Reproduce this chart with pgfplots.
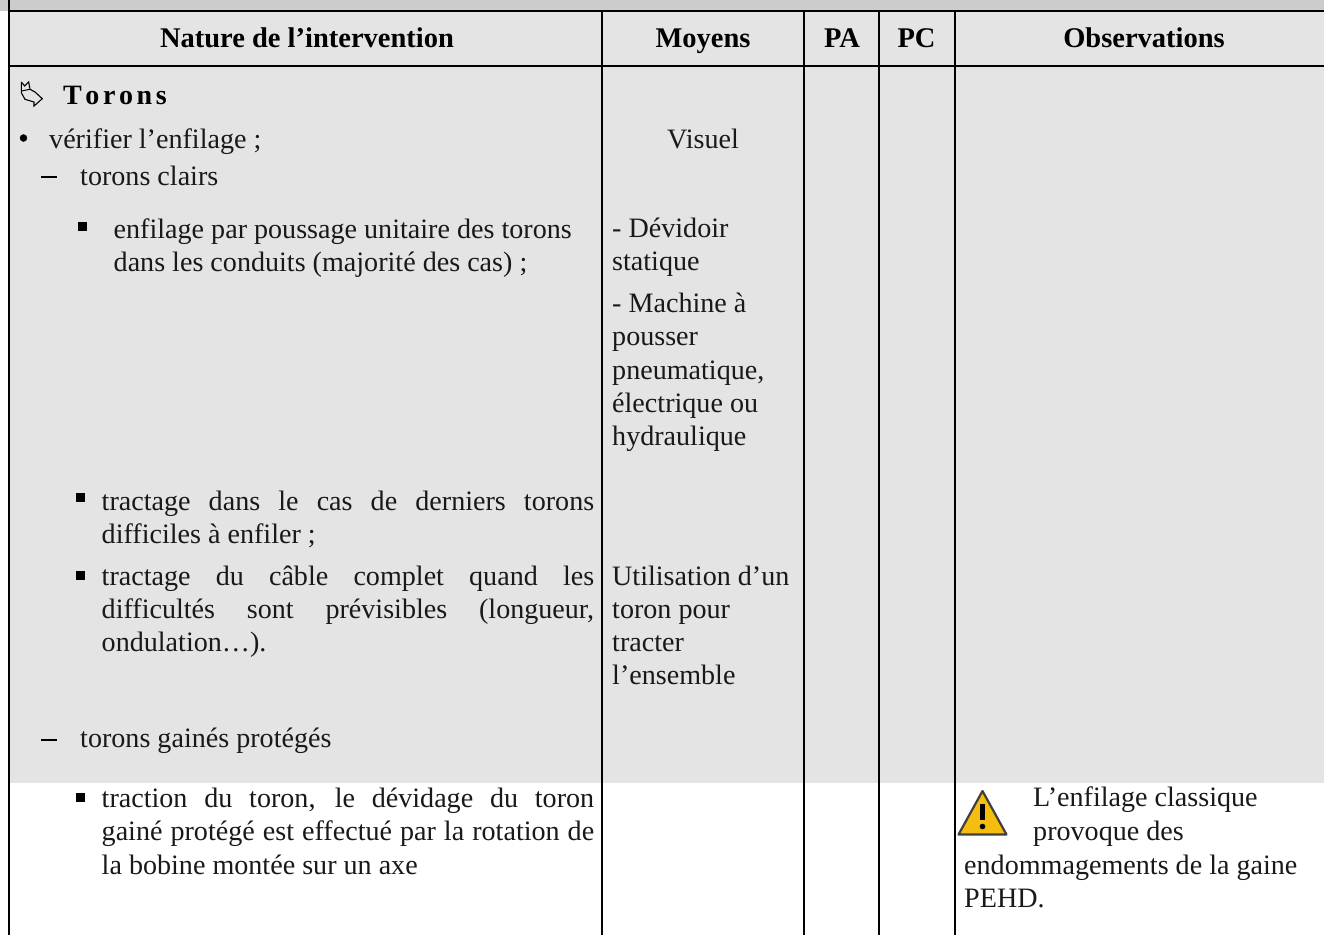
\documentclass[border=0pt]{standalone}
\usepackage{pgfplots}
\pgfplotsset{compat=1.18}
\usepackage{fontspec}
\setmainfont{Liberation Serif}
\definecolor{bandgray}{HTML}{CCCCCC}
\definecolor{cellgray}{HTML}{E4E4E4}
\definecolor{warn}{HTML}{F5BE0F}
\newcommand{\T}[3]{\node[anchor=base west,inner sep=0pt,text=black!90] at (axis cs:#1,#2) {\fontsize{28.1}{30}\selectfont #3};}
\newcommand{\J}[4]{\node[anchor=base west,inner sep=0pt,text=black!90] at (axis cs:#1,#2) {\fontsize{28.1}{30}\selectfont\makebox[#3pt][s]{#4}};}
\newcommand{\C}[3]{\node[anchor=base,inner sep=0pt,text=black!90] at (axis cs:#1,#2) {\fontsize{28.1}{30}\selectfont #3};}
\newcommand{\Hd}[3]{\node[anchor=base,inner sep=0pt] at (axis cs:#1,#2) {\fontsize{28.5}{30}\selectfont\bfseries #3};}
\begin{document}
\begin{tikzpicture}
\begin{axis}[
  at={(0pt,0pt)},anchor=south west,
  width=1324pt,height=935pt,scale only axis,
  xmin=0,xmax=1324,ymin=0,ymax=935,y dir=reverse,
  axis lines=none,clip=true,
]
% fills
\addplot[draw=none,fill=bandgray] coordinates {(0,0)(1324,0)(1324,11)(0,11)} -- cycle;
\addplot[draw=none,fill=cellgray] coordinates {(8,11)(1324,11)(1324,782.5)(8,782.5)} -- cycle;
% rules
\addplot[black,line width=2.5pt] coordinates {(9,0)(9,935)};
\addplot[black,line width=2pt] coordinates {(8,11)(1324,11)};
\addplot[black,line width=2pt] coordinates {(8,66)(1324,66)};
\addplot[black,line width=2pt] coordinates {(602,11)(602,935)};
\addplot[black,line width=2pt] coordinates {(804,11)(804,935)};
\addplot[black,line width=2pt] coordinates {(879,11)(879,935)};
\addplot[black,line width=2pt] coordinates {(955,11)(955,935)};
% header
\Hd{307}{47}{Nature de l’intervention}
\Hd{703}{47}{Moyens}
\Hd{842}{47}{PA}
\Hd{916.5}{47}{PC}
\Hd{1144}{47}{Observations}
% arrow symbol
\addplot[black,line width=1.1pt] coordinates {(21.3,82)(24.7,86)(28.7,82)(30,89.3)(35,92)(42.3,98.7)(34,106)(34,102)(25,99.3)(21.3,92.7)(21.3,82)};
\addplot[black,line width=1pt] coordinates {(21.3,91)(30,89.3)};
% col 1
\node[anchor=base west,inner sep=0pt] at (axis cs:63,104) {\fontsize{28}{30}\selectfont\bfseries T\hspace{3.6pt}o\hspace{3.6pt}r\hspace{3.6pt}o\hspace{3.6pt}n\hspace{3.6pt}s};
\addplot[only marks,mark=*,mark size=3.5pt,black] coordinates {(23.5,138)};
\T{49}{148}{vérifier l’enfilage ;}
\addplot[black,line width=1.2pt] coordinates {(41,177)(57,177)};
\T{80}{185}{torons clairs}
\addplot[only marks,mark=square*,mark size=4pt,black] coordinates {(82,226.5)};
\T{113.5}{238}{enfilage par poussage unitaire des torons}
\T{113.5}{271}{dans les conduits (majorité des cas) ;}
\addplot[only marks,mark=square*,mark size=4pt,black] coordinates {(80,497.5)};
\J{101.5}{510}{492.5}{tractage dans le cas de derniers torons}
\T{101.5}{543}{difficiles à enfiler ;}
\addplot[only marks,mark=square*,mark size=4pt,black] coordinates {(80,575)};
\J{101.5}{585}{492.5}{tractage du câble complet quand les}
\J{101.5}{618}{492.5}{difficultés sont prévisibles (longueur,}
\T{101.5}{651}{ondulation…).}
\addplot[black,line width=1.2pt] coordinates {(41,740)(57,740)};
\T{80}{747}{torons gainés protégés}
\addplot[only marks,mark=square*,mark size=4pt,black] coordinates {(80,797.5)};
\J{101.5}{807}{492.5}{traction du toron, le dévidage du toron}
\J{101.5}{840}{492.5}{gainé protégé est effectué par la rotation de}
\T{101.5}{874}{la bobine montée sur un axe}
% col 2
\C{703}{148}{Visuel}
\T{612}{237}{- Dévidoir}
\T{612}{270}{statique}
\T{612}{312}{- Machine à}
\T{612}{345}{pousser}
\T{612}{379}{pneumatique,}
\T{612}{412}{électrique ou}
\T{612}{445}{hydraulique}
\T{612}{585}{Utilisation d’un}
\T{612}{618}{toron pour}
\T{612}{651}{tracter}
\T{612}{684}{l’ensemble}
% warning icon
\addplot[draw=black!75,fill=warn,line width=2.2pt,line join=round] coordinates {(958.5,834.5)(1006.5,834.5)(982.5,791)} -- cycle;
\addplot[black,line width=4.5pt] coordinates {(982.5,804)(982.5,820)};
\addplot[only marks,mark=*,mark size=2.6pt,black] coordinates {(982.5,826.5)};
% col 5
\T{1033}{806}{L’enfilage classique}
\T{1033}{840}{provoque des}
\T{964}{874}{endommagements de la gaine}
\T{964}{907}{PEHD.}
\end{axis}
\end{tikzpicture}
\end{document}
